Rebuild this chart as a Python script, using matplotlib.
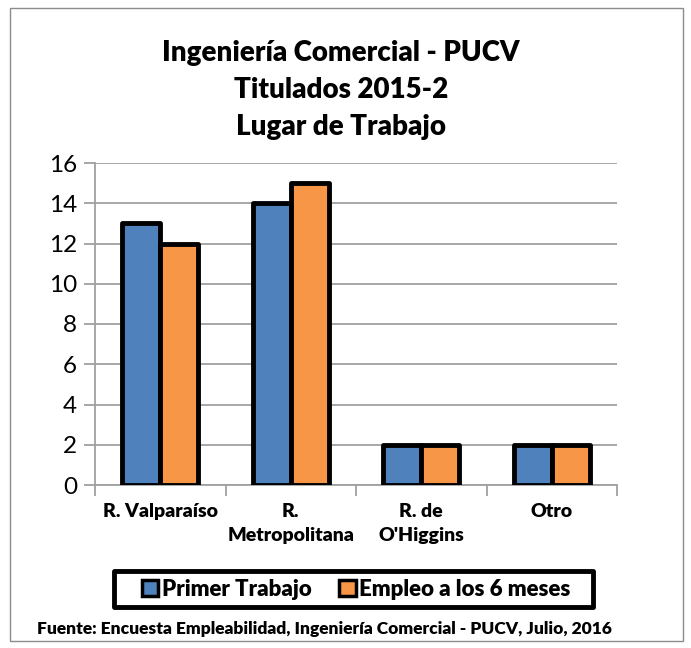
import matplotlib
matplotlib.use("Agg")
import matplotlib.pyplot as plt
import numpy as np
from matplotlib.patches import Rectangle

categories = ["R. Valparaíso", "R.\nMetropolitana", "R. de\nO'Higgins", "Otro"]
primer = [13, 14, 2, 2]
empleo6 = [12, 15, 2, 2]
series_names = ["Primer Trabajo", "Empleo a los 6 meses"]
title = "Ingeniería Comercial - PUCV\nTitulados 2015-2\nLugar de Trabajo"
source = "Fuente: Encuesta Empleabilidad, Ingeniería Comercial - PUCV, Julio, 2016"

plt.rcParams['font.family'] = ['Lato', 'DejaVu Sans']

W, H = 691, 648
fig = plt.figure(figsize=(W/100, H/100), dpi=100)
fig.patches.append(Rectangle((10/W, 1-641/H), 673/W, 633/H, transform=fig.transFigure,
                             fill=False, edgecolor='#8c8c8c', lw=1))

ax = fig.add_axes([95/W, 1-485/H, (617-95)/W, (485-163)/H])
x = np.arange(len(categories))
w = 0.29
blue = '#4f81bd'
orange = '#f79646'
ax.bar(x - w/2, primer, w, color=blue, edgecolor='black', linewidth=3.5, joinstyle='round', zorder=3, label=series_names[0])
ax.bar(x + w/2, empleo6, w, color=orange, edgecolor='black', linewidth=3.5, joinstyle='round', zorder=3, label=series_names[1])

ax.set_xlim(-0.5, 3.5)
ax.set_ylim(0, 16)
ax.set_yticks(range(0, 17, 2))
ax.yaxis.grid(True, color='#a0a0a0', lw=1.3)
ax.set_axisbelow(True)
for s in ['top', 'right']:
    ax.spines[s].set_visible(False)
for s in ['left', 'bottom']:
    ax.spines[s].set_color('#a0a0a0')
    ax.spines[s].set_linewidth(1.3)
ax.tick_params(axis='y', length=8, color='#a0a0a0', width=1.3, labelsize=17.5, pad=5)
ax.set_xticks(x)
ax.set_xticklabels(categories, fontsize=14, fontweight='heavy', linespacing=1.5)
ax.tick_params(axis='x', length=0, pad=13)
ax.set_xticks(np.arange(-0.5, 4.0, 1), minor=True)
ax.tick_params(axis='x', which='minor', length=8, color='#a0a0a0', width=1.3)

fig.text(341/W, 1-90/H, title, ha='center', va='center', fontsize=20, fontweight='heavy', linespacing=1.5)

# legend frame
fig.patches.append(Rectangle((114/W, 1-607/H), 479/W, 36/H, transform=fig.transFigure,
                             fill=False, edgecolor='black', lw=3.5, joinstyle='round'))
leg = fig.legend(loc='center', bbox_to_anchor=(356/W, 1-589/H), ncol=2, frameon=False,
                 prop={'size': 16, 'weight': 'heavy'}, handlelength=0.75, handleheight=0.75,
                 handletextpad=0.15, columnspacing=1.25, borderpad=0, borderaxespad=0)
for h in leg.legend_handles:
    h.set_linewidth(2.5)

fig.text(37/W, 1-629/H, source, ha='left', va='center', fontsize=12.5, fontweight='heavy')

fig.savefig("out.png", dpi=100)
